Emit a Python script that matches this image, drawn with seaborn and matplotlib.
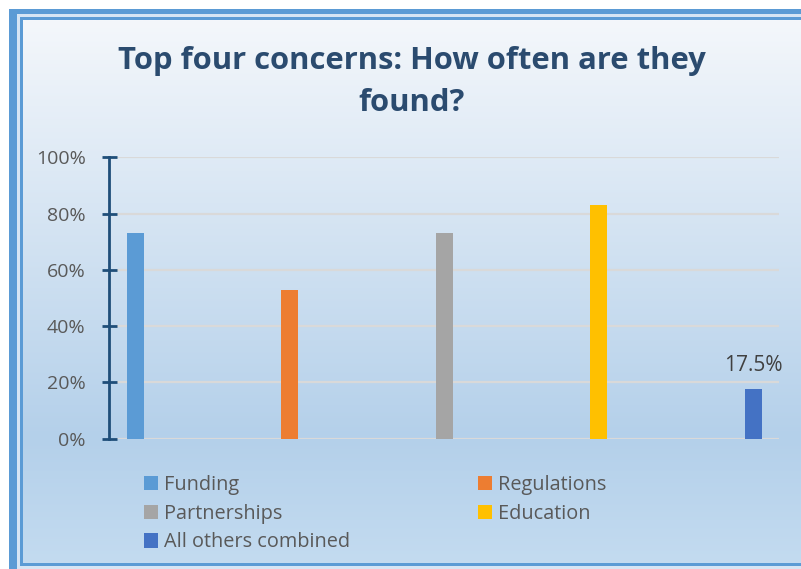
import numpy as np
import pandas as pd
import matplotlib
matplotlib.use("Agg")
import matplotlib.pyplot as plt
import seaborn as sns
from matplotlib.patches import Rectangle, Patch
from matplotlib.colors import LinearSegmentedColormap

# ---- data ----
categories = ["Funding", "Regulations", "Partnerships", "Education", "All others combined"]
values = [0.73, 0.53, 0.73, 0.83, 0.175]
colors = ["#5B9BD5", "#ED7D31", "#A5A5A5", "#FFC000", "#4472C4"]
yticks = [0, 0.2, 0.4, 0.6, 0.8, 1.0]
ytick_labels = ["0%", "20%", "40%", "60%", "80%", "100%"]
data_label = "17.5%"
title = "Top four concerns: How often are they\nfound?"

sns.set_theme(style="white")
plt.rcParams["font.family"] = ["Open Sans", "DejaVu Sans"]

W, H = 801, 569
fig = plt.figure(figsize=(W / 100, H / 100), dpi=100)
fig.patch.set_facecolor("white")

# ---- background frame + gradient ----
bg = fig.add_axes([0, 0, 1, 1], zorder=-10)
bg.set_xlim(0, W)
bg.set_ylim(H, 0)
bg.axis("off")
bg.add_patch(Rectangle((9, 9), W + 20, H + 20, facecolor="#5B9BD5", edgecolor="none", zorder=1))
bg.add_patch(Rectangle((16.7, 14), W + 20, H - 14 + 20, facecolor="#D6E5F4", edgecolor="none", zorder=2))
bg.add_patch(Rectangle((19.5, 17), W + 20, 566 - 17, facecolor="#5B9BD5", edgecolor="none", zorder=3))
grad_cmap = LinearSegmentedColormap.from_list(
    "g", [(0, "#F4F7FB"), (0.77, "#B4D0EA"), (1, "#C3DBF0")])
gy = np.linspace(0, 1, 256).reshape(-1, 1)
bg.imshow(gy, cmap=grad_cmap, extent=(22.5, W + 10, 563, 20), aspect="auto",
          origin="upper", interpolation="bilinear", zorder=5)
bg.set_xlim(0, W)
bg.set_ylim(H, 0)

# ---- main axes ----
ax = fig.add_axes([117 / W, 130.3 / H, (779 - 117) / W, 281.4 / H])
ax.patch.set_alpha(0)

df = pd.DataFrame({"pos": np.arange(len(categories)), "value": values, "category": categories})
sns.barplot(data=df, x="pos", y="value", hue="category", hue_order=categories,
            palette=colors, native_scale=True, dodge=False, width=0.11,
            saturation=1, legend=False, linewidth=0, ax=ax)

ax.set_xlim(-0.118, 4.168)
ax.set_ylim(0, 1.0)
ax.set_xticks([])
ax.set_xlabel("")
ax.set_ylabel("")
ax.set_yticks(yticks)
ax.set_yticklabels(ytick_labels)
ax.yaxis.grid(True, color="#D9D9D9", lw=1.6)
ax.set_axisbelow(True)
for s in ["top", "right", "bottom"]:
    ax.spines[s].set_visible(False)
ax.spines["left"].set_color("#1F4E79")
ax.spines["left"].set_linewidth(2)
ax.spines["left"].set_position(("outward", 5.76))
ax.tick_params(axis="y", direction="inout", length=10.8, width=2, color="#1F4E79",
               labelsize=14, labelcolor="#595959", pad=11.4, left=True)

ax.annotate(data_label, xy=(4, values[4]), xytext=(0, 9.5), textcoords="offset points",
            ha="center", va="bottom", fontsize=15, color="#404040")

# ---- title ----
fig.text(412 / W, 1 - 82 / H, title, ha="center", va="center", fontsize=22.3,
         fontweight="bold", color="#2B4B6F", linespacing=1.55)

# ---- legend ----
order = [0, 2, 4, 1, 3]
handles = [Patch(facecolor=colors[i], edgecolor="none", label=categories[i]) for i in order]
fig.legend(handles=handles, ncol=2, loc="upper left", bbox_to_anchor=(144 / W, 1 - 475 / H),
           frameon=False, fontsize=14.3, handlelength=0.72, handleheight=0.72,
           handletextpad=0.31, columnspacing=6.4, labelspacing=0.44, borderpad=0,
           borderaxespad=0, labelcolor="#595959")

fig.savefig("out.png", dpi=100)
